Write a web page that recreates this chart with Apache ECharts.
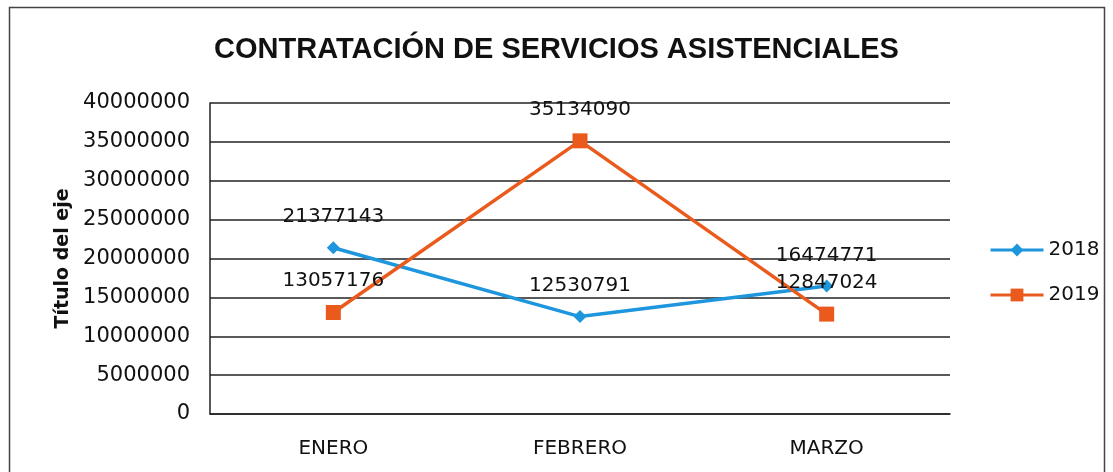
<!DOCTYPE html>
<html>
<head>
<meta charset="utf-8">
<script src="https://cdn.jsdelivr.net/npm/echarts@6/dist/echarts.min.js"></script>
<style>
  html, body { margin: 0; padding: 0; background: #fff; }
  #chart { width: 1113px; height: 472px; }
</style>
</head>
<body>
<div id="chart"></div>
<script>
var months = ['ENERO', 'FEBRERO', 'MARZO'];
var values2018 = [21377143, 12530791, 16474771];
var values2019 = [13057176, 35134090, 12847024];

var dom = document.getElementById('chart');
var myChart = echarts.init(dom);

var labelStyle = {
    show: true,
    position: 'top',
    distance: 14,
    color: '#111',
    fontFamily: 'DejaVu Sans',
    fontSize: 20
};

var option = {
    backgroundColor: '#fff',
    animation: false,
    title: {
        text: 'CONTRATACIÓN DE SERVICIOS ASISTENCIALES',
        left: 'center',
        top: 30,
        textStyle: {
            fontFamily: 'Liberation Sans',
            fontWeight: 'bold',
            fontSize: 29,
            color: '#111'
        }
    },
    graphic: [{
        type: 'rect',
        shape: { x: 9.5, y: 7.5, width: 1095, height: 500 },
        style: { fill: 'none', stroke: '#444', lineWidth: 1.5 },
        silent: true
    }],
    legend: {
        orient: 'vertical',
        left: 984,
        top: 235,
        itemGap: 25,
        itemWidth: 53,
        itemHeight: 16,
        lineStyle: { width: 3 },
        textStyle: { fontFamily: 'DejaVu Sans', fontSize: 20, color: '#111' },
        data: ['2018', '2019']
    },
    grid: { left: 210, right: 163, top: 103, bottom: 58 },
    xAxis: {
        type: 'category',
        data: months,
        boundaryGap: true,
        axisLine: { show: true, lineStyle: { color: '#222', width: 1.5 } },
        axisTick: { show: false },
        axisLabel: { fontFamily: 'DejaVu Sans', fontSize: 20, color: '#111', margin: 25 }
    },
    yAxis: {
        type: 'value',
        min: 0,
        max: 40000000,
        interval: 5000000,
        name: 'Título del eje',
        nameLocation: 'middle',
        nameGap: 128,
        nameTextStyle: { fontFamily: 'DejaVu Sans', fontWeight: 'bold', fontSize: 19, color: '#111' },
        axisLine: { show: true, lineStyle: { color: '#222', width: 1.5 } },
        axisTick: { show: false },
        axisLabel: {
            fontFamily: 'DejaVu Sans', fontSize: 21, color: '#111', margin: 20,
            formatter: function (v) { return String(v); }
        },
        splitLine: { show: true, lineStyle: { color: '#222', width: 1.5 } }
    },
    series: [{
        name: '2018',
        type: 'line',
        data: values2018,
        symbol: 'diamond',
        symbolSize: 13,
        itemStyle: { color: '#1e96de' },
        lineStyle: { color: '#1e96de', width: 3.5 },
        label: labelStyle
    }, {
        name: '2019',
        type: 'line',
        data: values2019,
        symbol: 'rect',
        symbolSize: 15,
        itemStyle: { color: '#ea5a1c' },
        lineStyle: { color: '#ea5a1c', width: 3.5 },
        label: labelStyle
    }]
};

myChart.setOption(option);
</script>
</body>
</html>
